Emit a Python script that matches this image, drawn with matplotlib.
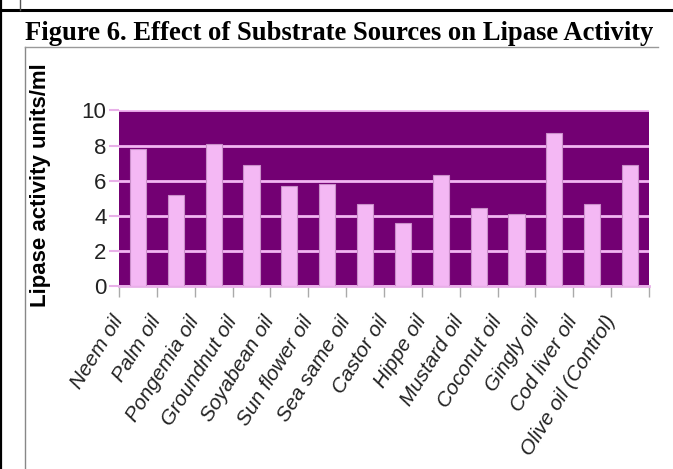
import matplotlib
matplotlib.use("Agg")
import matplotlib.pyplot as plt
from matplotlib.lines import Line2D
from matplotlib.transforms import ScaledTranslation
import numpy as np

categories = ["Neem oil", "Palm oil", "Pongemia oil", "Groundnut oil", "Soyabean oil",
              "Sun flower oil", "Sea same oil", "Castor oil", "Hippe oil", "Mustard oil",
              "Coconut oil", "Gingly oil", "Cod liver oil", "Olive oil (Control)"]
values = [7.8, 5.2, 8.1, 6.9, 5.7, 5.8, 4.65, 3.6, 6.3, 4.45, 4.1, 8.7, 4.65, 6.9]
yticks = [0, 2, 4, 6, 8, 10]
title = "Figure 6. Effect of Substrate Sources on Lipase Activity"
ylabel = "Lipase activity units/ml"

W, H = 673, 469
fig = plt.figure(figsize=(W / 100, H / 100), dpi=100)

def fx(px):
    return px / W

def fy(py):
    return 1 - py / H

# page frame lines
fig.add_artist(Line2D([0, 1], [fy(10), fy(10)], color="black", lw=2.2, transform=fig.transFigure))
fig.add_artist(Line2D([fx(0.8), fx(0.8)], [0, 1], color="black", lw=1.6, transform=fig.transFigure))
fig.add_artist(Line2D([fx(19.5), fx(19.5)], [fy(10), 1], color="#555555", lw=1.0, transform=fig.transFigure))
# chart box
fig.add_artist(Line2D([fx(25.5), fx(25.5)], [0, fy(47)], color="#888888", lw=1.0, transform=fig.transFigure))
fig.add_artist(Line2D([fx(25.5), fx(658)], [fy(47), fy(47)], color="#999999", lw=1.0, transform=fig.transFigure))

fig.text(fx(25), fy(40), title, fontsize=19.2, fontweight="bold",
         family="Liberation Serif", ha="left", va="baseline")

ax = fig.add_axes([fx(119), fy(286), fx(649 - 119), (286 - 110.5) / H])
ax.set_facecolor("#730073")
x = np.arange(len(categories))
ax.bar(x, values, width=0.43, color="#F4B8F4", edgecolor="#C98FC9", linewidth=0.8, zorder=3)
ax.set_xlim(-0.5, len(categories) - 0.5)
ax.set_ylim(0, 10)
ax.set_yticks(yticks)
ax.set_yticklabels([str(v) for v in yticks], fontsize=16, family="Liberation Sans", color="#222222")
ax.yaxis.grid(True, color="#F2B6F2", lw=2.0, zorder=1)
ax.set_axisbelow(True)
ax.tick_params(axis="y", length=7, width=1.5, color="#E8B0E8", pad=2)

ax.set_xticks(np.arange(len(categories) + 1) - 0.5)
ax.set_xticklabels([])
ax.tick_params(axis="x", length=8, width=1.0, color="#AAAAAA", direction="out")
ax.set_xticks(x, minor=True)
ax.set_xticklabels(categories, minor=True, rotation=58, ha="right", va="top",
                   rotation_mode="anchor",
                   fontsize=15, family="Liberation Sans", style="italic", color="#222222")
ax.tick_params(axis="x", which="minor", length=0, pad=19)
off = ScaledTranslation(-0.27, 0, fig.dpi_scale_trans)
for lab in ax.get_xticklabels(minor=True):
    lab.set_transform(lab.get_transform() + off)

for s in ["top", "right", "left"]:
    ax.spines[s].set_visible(False)
ax.spines["bottom"].set_color("#E8B0E8")
ax.spines["bottom"].set_linewidth(2.0)

fig.text(fx(41), fy(185), ylabel, rotation=90, fontsize=16, fontweight="bold",
         family="Liberation Sans", ha="center", va="center")

fig.savefig("out.png", dpi=100)
